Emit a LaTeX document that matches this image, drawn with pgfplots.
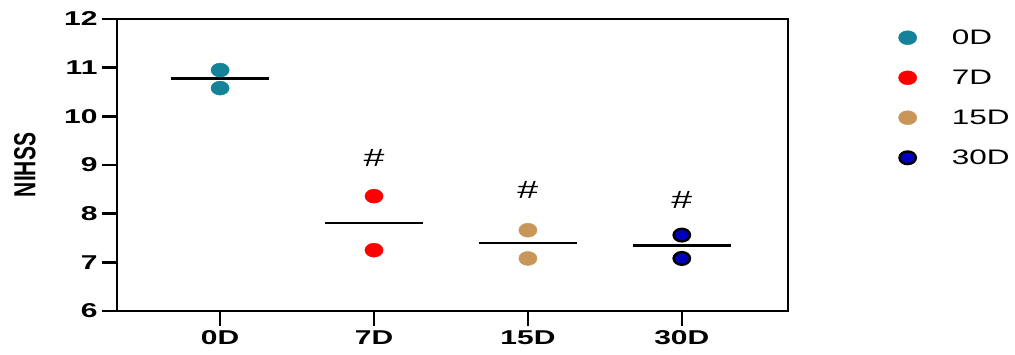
\documentclass[border=0pt]{standalone}
\usepackage{pgfplots}
\pgfplotsset{compat=1.18}
\usepackage{fontspec}
\setmainfont{Liberation Sans}[FakeStretch=1.5]
\newfontfamily\plainfont{Liberation Sans}
\definecolor{cteal}{RGB}{20,130,152}
\definecolor{cred}{RGB}{255,0,0}
\definecolor{ctan}{RGB}{200,150,88}
\definecolor{cblue}{RGB}{0,0,190}
\begin{document}
\begin{tikzpicture}
\begin{axis}[
  scale only axis, width=671pt, height=292pt,
  xmin=-0.67, xmax=3.69, ymin=6, ymax=12,
  xtick={0,1,2,3}, xticklabels={0D,7D,15D,30D},
  ytick={6,7,8,9,10,11,12},
  xtick pos=bottom, ytick pos=left,
  tick align=outside, major tick length=15pt,
  axis line style={line width=2.6pt},
  every tick/.style={line width=2.6pt, black},
  tick label style={font=\fontsize{20}{20}\selectfont\bfseries},
  /pgf/number format/assume math mode=true,
  xticklabel style={yshift=-1pt},
  yticklabel style={xshift=-1pt},
  clip=false,
  legend style={at={(1.16,0.978)}, anchor=north west, draw=none, fill=none,
    font=\fontsize{21}{21}\selectfont, row sep=20pt,
    /tikz/every odd column/.append style={column sep=33pt}},
  legend cell align=left,
]
\addplot[only marks, mark=*, mark size=7pt, mark options={xscale=1.3, fill=cteal, draw=cteal}] coordinates {(0,10.95) (0,10.58)};
\addlegendentry{0D}
\addplot[only marks, mark=*, mark size=7pt, mark options={xscale=1.3, fill=cred, draw=cred}] coordinates {(1,8.36) (1,7.25)};
\addlegendentry{7D}
\addplot[only marks, mark=*, mark size=7pt, mark options={xscale=1.3, fill=ctan, draw=ctan}] coordinates {(2,7.66) (2,7.08)};
\addlegendentry{15D}
\addplot[only marks, mark=*, mark size=6.3pt, mark options={xscale=1.3, fill=cblue, draw=black, line width=2.4pt}] coordinates {(3,7.56) (3,7.08)};
\addlegendentry{30D}
\addplot[black, line width=2.6pt, forget plot] coordinates {(-0.32,10.78) (0.32,10.78)};
\addplot[black, line width=2.6pt, forget plot] coordinates {(0.68,7.81) (1.32,7.81)};
\addplot[black, line width=2.6pt, forget plot] coordinates {(1.68,7.40) (2.32,7.40)};
\addplot[black, line width=2.6pt, forget plot] coordinates {(2.68,7.34) (3.32,7.34)};
\node[font=\fontsize{25}{25}\selectfont] at (axis cs:1,9.14) {\#};
\node[font=\fontsize{25}{25}\selectfont] at (axis cs:2,8.49) {\#};
\node[font=\fontsize{25}{25}\selectfont] at (axis cs:3,8.28) {\#};
\end{axis}
\node[font=\plainfont\fontsize{21}{21}\selectfont\bfseries, xscale=1.45, rotate=90] at ([xshift=-92pt]current axis.west) {NIHSS};
\useasboundingbox ([shift={(-117pt,-43pt)}]current axis.south west) rectangle ++(1015pt,354pt);
\end{tikzpicture}
\end{document}
